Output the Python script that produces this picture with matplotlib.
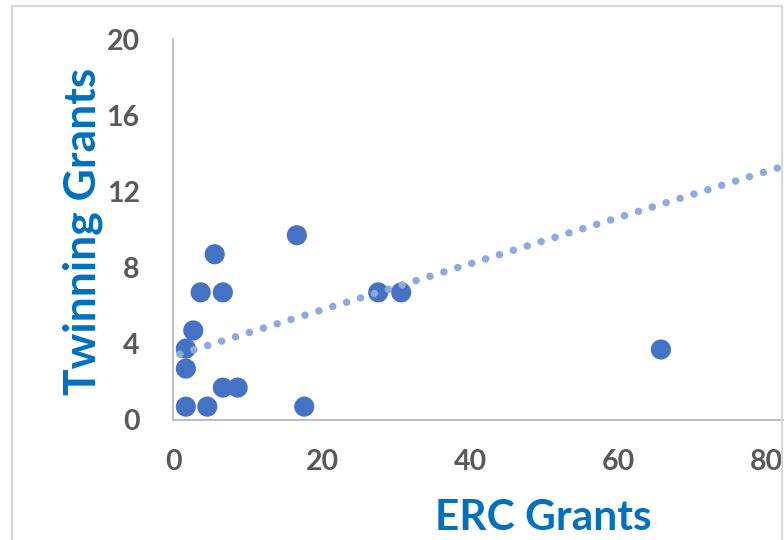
import matplotlib
matplotlib.use("Agg")
import matplotlib.pyplot as plt
from matplotlib.patches import Rectangle
import numpy as np

# data
erc_grants = [1.6, 4.5, 17.6, 6.6, 8.6, 1.6, 1.6, 2.6, 3.6, 6.6, 27.6, 30.7, 5.5, 16.6, 65.8]
twinning_grants = [0.7, 0.7, 0.7, 1.7, 1.7, 2.7, 3.75, 4.7, 6.7, 6.7, 6.7, 6.7, 8.7, 9.7, 3.7]
trend_intercept = 3.36
trend_slope = 0.121
trend_x_range = [0.8, 84]
x_ticks = [0, 20, 40, 60, 80]
y_ticks = [0, 4, 8, 12, 16, 20]

W, H = 784, 540
fig = plt.figure(figsize=(W / 100, H / 100), dpi=100)
fig.patch.set_facecolor("white")

# outer chart-area border (partially cropped)
fig.patches.append(Rectangle((12 / W, -0.05), (782 - 12) / W, (H - 6) / H + 0.05,
                             transform=fig.transFigure, fill=False,
                             edgecolor="#D9D9D9", linewidth=1.6, zorder=0))

x0, x80 = 174, 766
ppu = (x80 - x0) / 80.0
left_px = 173
xmin = (left_px - x0) / ppu
xmax = (W - x0) / ppu
ax = fig.add_axes([left_px / W, (H - 420) / H, (W - left_px) / W, (420 - 39) / H])
ax.set_xlim(xmin, xmax)
ax.set_ylim(0, 20)

tx = np.array(trend_x_range)
ax.plot(tx, trend_intercept + trend_slope * tx, color="#8FAADC",
        linewidth=5.4, linestyle=(0, (0.01, 1.93)), dash_capstyle="round",
        zorder=3, clip_on=True)

ax.scatter(erc_grants, twinning_grants, s=210, color="#4472C4",
           edgecolors="none", zorder=2, clip_on=False)

for s in ["top", "right"]:
    ax.spines[s].set_visible(False)
for s in ["left", "bottom"]:
    ax.spines[s].set_color("#BFBFBF")
    ax.spines[s].set_linewidth(1.5)

ax.set_xticks(x_ticks)
ax.set_yticks(y_ticks)
ax.tick_params(length=0, colors="#595959")
for lab in ax.get_xticklabels() + ax.get_yticklabels():
    lab.set_fontfamily("Lato")
    lab.set_fontweight("bold")
    lab.set_fontsize(20.5)
    lab.set_color("#595959")
ax.tick_params(axis="x", pad=21)
ax.tick_params(axis="y", pad=24)

fig.text(543 / W, 1 - 518 / H, "ERC Grants", family="Lato", weight="bold",
         fontsize=30.5, color="#0070C0", ha="center", va="center")
fig.text(83 / W, 1 - 231 / H, "Twinning Grants", family="Lato", weight="bold",
         fontsize=32, color="#0070C0", ha="center", va="center", rotation=90)

fig.savefig("out.png", dpi=100)
